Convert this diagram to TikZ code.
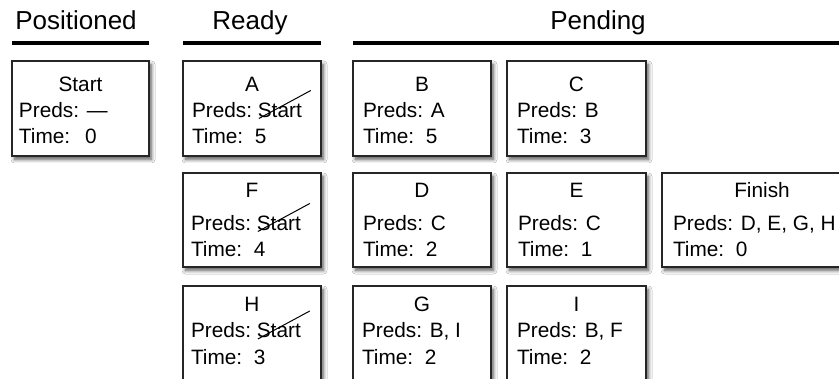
\documentclass[tikz,border=0pt]{standalone}
\usepackage{fontspec}
\setmainfont{Liberation Sans}
\usetikzlibrary{shadows,shadows.blur,calc}
\tikzset{
  task/.style={draw=black!85, line width=1.1pt, fill=white, anchor=north west,
    inner sep=0pt, outer sep=0pt,
    blur shadow={shadow xshift=2.5pt, shadow yshift=-3.5pt, shadow blur radius=3.5pt,
      shadow blur steps=8, shadow opacity=65}},
  boxtxt/.style={font=\fontsize{20.8}{24}\selectfont, inner sep=0pt, outer sep=0pt},
  head/.style={font=\fontsize{26}{30}\selectfont, inner sep=0pt, anchor=base},
  bar/.style={line width=4pt, black},
  strike/.style={line width=1pt, black},
}
% name, x, y, width, height, text offset, title, preds, time
\newcommand\taskbox[9]{%
  \node[task, minimum width=#4pt, minimum height=#5pt] (#1) at (#2,#3) {};
  \node[boxtxt, anchor=base] (#1-t) at ($(#1.north)+(0,\rT)$) {#7};
  \node[boxtxt, anchor=base west] (#1-p) at ($(#1.north west)+(#6,\rP)$) {#8};
  \node[boxtxt, anchor=base west] (#1-m) at ($(#1.north west)+(#6,\rM)$) {Time:~~#9};
}
\newcommand\struck[1]{%
  \node[boxtxt, anchor=base west] (#1-s) at ($(#1-p.base east)+(5.75,0)$) {Start};
  \draw[strike] ($(#1-s.base west)+(1,1)$) -- ($(#1-s.base east)+(9,-27)$);
}
\begin{document}
\begin{tikzpicture}[x=1pt, y=-1pt]
  \useasboundingbox (0,0) rectangle (839,379);
  \clip (0,0) rectangle (839,379);
  \fill[white] (0,0) rectangle (839,379);

  % headers
  \node[head] (hpos) at (76,30) {Positioned};
  \node[head] (hready) at (250,30) {Ready};
  \node[head] (hpend) at (598,30) {Pending};
  \draw[bar] (12,43) -- (149,43);
  \draw[bar] (183,43) -- (321,43);
  \draw[bar] (353,43) -- (845,43);

  % row 1
  \def\rT{30.5}\def\rP{56.5}\def\rM{83}
  \taskbox{start}{12}{61}{137}{95}{7}{Start}{Preds: —}{\,0}
  \taskbox{A}{183}{61}{138}{95}{9}{A}{Preds:}{5}
  \struck{A}
  \taskbox{B}{353}{61}{138}{95}{10}{B}{Preds: A}{5}
  \taskbox{C}{507}{61}{139}{95}{10}{C}{Preds: B}{3}

  % row 2
  \def\rT{25}\def\rP{57.5}\def\rM{84}
  \taskbox{F}{183}{173}{138}{94}{8}{F}{Preds:}{4}
  \struck{F}
  \taskbox{D}{353}{173}{138}{94}{10}{D}{Preds: C}{2}
  \taskbox{E}{507}{173}{139}{94}{11}{E}{Preds: C}{1}
  \taskbox{finish}{662}{173}{200}{94}{11}{Finish}{Preds: D, E, G, H}{0}

  % row 3
  \def\rT{26}\def\rP{52}\def\rM{79}
  \taskbox{H}{183}{286}{138}{96}{8}{H}{Preds:}{3}
  \struck{H}
  \taskbox{G}{353}{286}{138}{96}{9}{G}{Preds: B, I}{2}
  \taskbox{I}{507}{286}{139}{96}{10}{I}{Preds: B, F}{2}
\end{tikzpicture}
\end{document}
